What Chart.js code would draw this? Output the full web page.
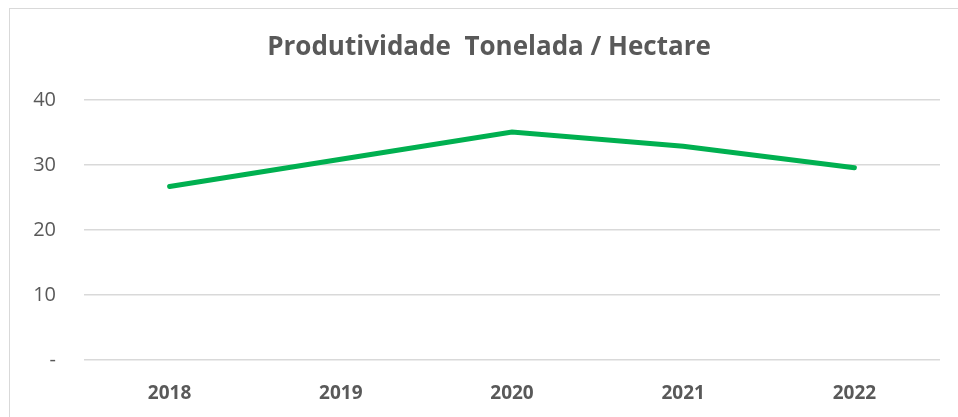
<!DOCTYPE html>
<html>
<head>
<meta charset="utf-8">
<script src="https://cdn.jsdelivr.net/npm/chart.js@4.4.1/dist/chart.umd.min.js"></script>
<style>
  html, body { margin: 0; padding: 0; background: #fff; }
  #wrap { position: relative; width: 958px; height: 417px; overflow: hidden; }
  #frame { position: absolute; left: 9px; top: 8px; width: 1000px; height: 500px; border: 1px solid #d9d9d9; }
  canvas { position: absolute; left: 0; top: 0; }
</style>
</head>
<body>
<div id="wrap">
  <div id="frame"></div>
  <canvas id="ProdChart" width="958" height="417"></canvas>
</div>
<script>
// Data
const anos = ['2018', '2019', '2020', '2021', '2022'];
const produtividade = [26.7, 30.9, 35.1, 32.9, 29.6];
const yTicks = [0, 10, 20, 30, 40];

const grey = '#595959';

const data = {
    labels: anos,
    datasets: [{
        label: 'Produtividade',
        data: produtividade,
        borderColor: '#00B050',
        backgroundColor: '#00B050',
        borderWidth: 5,
        borderCapStyle: 'round',
        borderJoinStyle: 'miter',
        pointRadius: 0,
        tension: 0
    }]
};

const config = {
    type: 'line',
    data: data,
    options: {
        responsive: false,
        animation: false,
        layout: { padding: { left: 20, right: 0, top: 0, bottom: 0 } },
        plugins: {
            legend: { display: false },
            tooltip: { enabled: false },
            title: {
                display: true,
                text: 'Produtividade  Tonelada / Hectare',
                color: grey,
                font: { family: 'Open Sans', size: 26, weight: 'bold' },
                padding: { top: 32, bottom: 37 }
            }
        },
        scales: {
            x: {
                offset: true,
                grid: { display: false, drawTicks: false },
                border: { display: false },
                ticks: {
                    color: grey,
                    padding: 22,
                    font: { family: 'Open Sans', size: 19, weight: 'bold' }
                },
                afterFit: function(scale) { scale.height = 57; }
            },
            y: {
                min: 0,
                max: 40,
                afterBuildTicks: function(scale) {
                    scale.ticks = yTicks.map(function(v) { return { value: v }; });
                },
                grid: { color: '#d9d9d9', lineWidth: 1.5, drawTicks: false },
                border: { display: false },
                ticks: {
                    color: grey,
                    padding: 28,
                    font: { family: 'Open Sans', size: 20 },
                    callback: function(v) { return v === 0 ? '-' : v; }
                },
                afterFit: function(scale) { scale.width = 64; }
            },
            // empty right margin, keeps the title centred like the original
            margem: {
                position: 'right',
                grid: { display: false, drawTicks: false },
                border: { display: false },
                ticks: { display: false },
                afterFit: function(scale) { scale.width = 18; }
            }
        }
    }
};

const myChart = new Chart(document.getElementById('ProdChart'), config);
</script>
</body>
</html>
